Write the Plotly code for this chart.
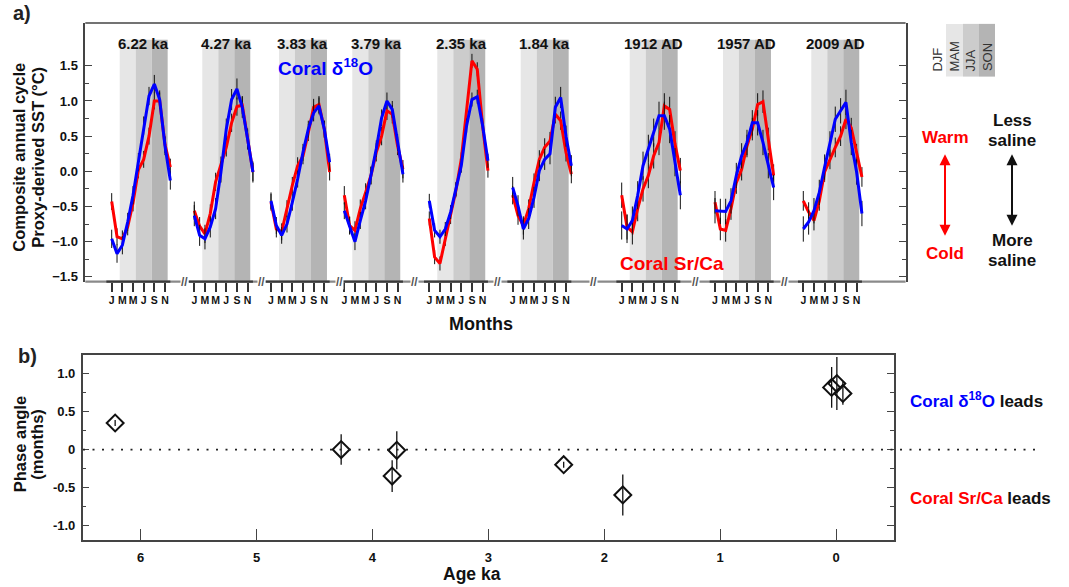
import plotly.graph_objects as go

W, H = 1069, 587
FONT = "Liberation Sans, Arial, sans-serif"
RED = "#ff0000"
BLUE = "#0000ff"

# ---------------- data ----------------
PANEL_LABELS = ["6.22 ka", "4.27 ka", "3.83 ka", "3.79 ka", "2.35 ka", "1.84 ka",
                "1912 AD", "1957 AD", "2009 AD"]
MONTH_TICK_LABELS = ["J", "M", "M", "J", "S", "N"]
MONTHS = list(range(12))

srca_622 = [-0.43, -0.93, -0.96, -0.79, -0.45, 0.02, 0.17, 0.50, 1.00, 1.00, 0.38, 0.06]
d18o_622 = [-0.96, -1.17, -1.05, -0.72, -0.34, 0.13, 0.65, 1.07, 1.24, 1.02, 0.36, -0.13]
srca_427 = [-0.56, -0.78, -0.89, -0.60, -0.15, 0.08, 0.34, 0.69, 0.92, 0.94, 0.46, -0.01]
d18o_427 = [-0.63, -0.91, -0.96, -0.79, -0.53, -0.01, 0.60, 1.02, 1.17, 0.91, 0.46, -0.01]
srca_383 = [-0.44, -0.82, -0.86, -0.53, -0.20, 0.08, 0.22, 0.55, 0.91, 0.95, 0.60, -0.01]
d18o_383 = [-0.42, -0.77, -0.91, -0.75, -0.44, -0.11, 0.27, 0.60, 0.83, 0.93, 0.60, 0.13]
srca_379 = [-0.34, -0.77, -0.84, -0.53, -0.30, -0.06, 0.27, 0.50, 0.86, 0.81, 0.36, 0.03]
d18o_379 = [-0.56, -0.77, -1.00, -0.70, -0.42, -0.06, 0.32, 0.76, 1.00, 0.88, 0.41, -0.04]
srca_235 = [-0.67, -1.22, -1.31, -0.96, -0.65, -0.27, 0.17, 0.83, 1.57, 1.45, 0.65, 0.01]
d18o_235 = [-0.42, -0.84, -0.93, -0.82, -0.58, -0.25, 0.08, 0.65, 1.02, 1.06, 0.65, 0.15]
srca_184 = [-0.34, -0.63, -0.77, -0.53, -0.16, 0.17, 0.34, 0.43, 0.81, 0.72, 0.27, -0.04]
d18o_184 = [-0.23, -0.49, -0.82, -0.67, -0.37, 0.01, 0.17, 0.25, 0.91, 1.05, 0.50, 0.08]
srca_1912 = [-0.34, -0.79, -0.86, -0.53, -0.25, -0.06, 0.22, 0.41, 0.93, 0.88, 0.39, 0.01]
d18o_1912 = [-0.77, -0.82, -0.70, -0.34, 0.08, 0.32, 0.55, 0.79, 0.79, 0.60, 0.13, -0.34]
srca_1957 = [-0.44, -0.82, -0.84, -0.53, -0.16, 0.03, 0.36, 0.60, 0.95, 0.99, 0.46, -0.06]
d18o_1957 = [-0.56, -0.57, -0.57, -0.42, -0.06, 0.22, 0.41, 0.69, 0.69, 0.41, 0.08, -0.23]
srca_2009 = [-0.42, -0.58, -0.70, -0.42, -0.01, 0.17, 0.34, 0.50, 0.74, 0.62, 0.25, -0.08]
d18o_2009 = [-0.82, -0.72, -0.56, -0.30, 0.06, 0.39, 0.74, 0.86, 0.98, 0.41, -0.01, -0.60]

SRCA = [srca_622, srca_427, srca_383, srca_379, srca_235, srca_184, srca_1912, srca_1957, srca_2009]
D18O = [d18o_622, d18o_427, d18o_383, d18o_379, d18o_235, d18o_184, d18o_1912, d18o_1957, d18o_2009]
ERR_SRCA = [0.12, 0.13, 0.12, 0.13, 0.10, 0.13, 0.18, 0.16, 0.14]
ERR_D18O = [0.13, 0.15, 0.12, 0.12, 0.10, 0.15, 0.20, 0.18, 0.18]

AGE_KA = [6.22, 4.27, 3.83, 3.79, 2.35, 1.84, 0.038, -0.007, -0.059]
PHASE = [0.35, 0.0, -0.35, -0.01, -0.20, -0.60, 0.82, 0.87, 0.74]
PHASE_ERR = [0.04, 0.20, 0.21, 0.25, 0.04, 0.27, 0.27, 0.35, 0.15]

# ---------------- layout positions (top panel x axis in pixel-like units) ----------------
PANEL_JAN_X = [111.7, 194.3, 271.0, 344.3, 429.3, 512.7, 621.7, 715.0, 803.3]
MONTH_STEP = 5.33
BREAKS_X = [180, 257, 335, 414, 497, 593, 695, 789]


def px(p):
    return p / W


def py(p):
    return 1 - p / H


fig = go.Figure()
tickvals, ticktext = [], []
shapes = []
annotations = []
SHADES = ["#e6e6e6", "#cccccc", "#b4b4b4"]
TOP_Y0, TOP_Y1 = -1.567, 2.11

# grey broken bottom line of the top panel
shapes.append(dict(type="line", xref="paper", yref="paper", x0=px(85.3), x1=px(905.6), y0=py(283), y1=py(283),
                   line=dict(color="#8a8a8a", width=2.2)))

for i, lab in enumerate(PANEL_LABELS):
    x0 = PANEL_JAN_X[i]
    xs = [x0 + m * MONTH_STEP for m in MONTHS]
    for s in range(3):
        shapes.append(dict(type="rect", xref="x", yref="y",
                           x0=x0 + (1.5 + 3 * s) * MONTH_STEP, x1=x0 + (4.5 + 3 * s) * MONTH_STEP,
                           y0=TOP_Y0, y1=1.87, fillcolor=SHADES[s], line=dict(width=0), layer="below"))
    shapes.append(dict(type="line", xref="x", yref="paper", x0=x0 - MONTH_STEP, x1=x0 + 11 * MONTH_STEP,
                       y0=py(283), y1=py(283), line=dict(color="#3a3a3a", width=2.2)))
    fig.add_trace(go.Scatter(x=xs, y=SRCA[i], mode="lines", line=dict(color=RED, width=3),
                             error_y=dict(type="constant", value=ERR_SRCA[i], color="#111", thickness=1, width=0),
                             xaxis="x", yaxis="y"))
    fig.add_trace(go.Scatter(x=xs, y=D18O[i], mode="lines", line=dict(color=BLUE, width=3),
                             error_y=dict(type="constant", value=ERR_D18O[i], color="#111", thickness=1, width=0),
                             xaxis="x", yaxis="y"))
    for k, t in enumerate(MONTH_TICK_LABELS):
        tickvals.append(x0 + 2 * k * MONTH_STEP)
        ticktext.append(t)
    annotations.append(dict(text="<b>%s</b>" % lab, xref="x", yref="paper",
                            x=x0 + 6 * MONTH_STEP, y=py(33), showarrow=False,
                            font=dict(size=15, color="#111", family=FONT)))

fig.add_trace(go.Scatter(x=AGE_KA, y=PHASE, mode="markers",
                         marker=dict(symbol="diamond-open", size=13, color="#111", line=dict(width=2, color="#111")),
                         error_y=dict(type="data", array=PHASE_ERR, color="#111", thickness=1.3, width=0),
                         xaxis="x2", yaxis="y2"))

shapes.append(dict(type="line", xref="paper", yref="paper", x0=px(85.3), x1=px(905.6), y0=py(23), y1=py(23),
                   line=dict(color="#444", width=1.5)))
for bx in BREAKS_X:
    annotations.append(dict(text="<b>//</b>", xref="paper", yref="paper", x=px(bx), y=py(283.5),
                            showarrow=False, bgcolor="white", borderpad=0,
                            font=dict(size=12, color="#555", family=FONT)))

shapes.append(dict(type="line", xref="paper", yref="y2", x0=px(83), x1=px(1042), y0=0, y1=0,
                   line=dict(color="#222", width=1.8, dash="2px,7.5px")))

LEG_X = [946, 963, 979, 995]
for s in range(3):
    shapes.append(dict(type="rect", xref="paper", yref="paper", x0=px(LEG_X[s]), x1=px(LEG_X[s + 1]),
                       y0=py(77), y1=py(24), fillcolor=SHADES[s], line=dict(width=0)))
for lbl, xx in zip(["DJF", "MAM", "JJA", "SON"], [938, 955, 971, 987.5]):
    annotations.append(dict(text=lbl, xref="paper", yref="paper", x=px(xx), y=py(74), textangle=-90,
                            xanchor="center", yanchor="bottom", showarrow=False,
                            font=dict(size=13, color="#333", family=FONT)))

annotations.append(dict(text="", xref="paper", yref="paper", x=px(945), y=py(155), ax=0, ay=83,
                        showarrow=True, arrowside="end+start", arrowhead=2, startarrowhead=2,
                        arrowsize=1.1, startarrowsize=1.1, arrowwidth=2, arrowcolor=RED))
annotations.append(dict(text="", xref="paper", yref="paper", x=px(1012), y=py(155), ax=0, ay=73,
                        showarrow=True, arrowside="end+start", arrowhead=2, startarrowhead=2,
                        arrowsize=1.1, startarrowsize=1.1, arrowwidth=2, arrowcolor="#111"))


def txt(t, x, y, size, color="#111", angle=0, xanchor="center"):
    annotations.append(dict(text=t, xref="paper", yref="paper", x=px(x), y=py(y), showarrow=False,
                            textangle=angle, xanchor=xanchor, yanchor="middle",
                            font=dict(size=size, color=color, family=FONT)))


txt("<b>Warm</b>", 945, 138, 17, RED)
txt("<b>Cold</b>", 945, 255, 17, RED)
txt("<b>Less</b>", 1012, 121.5, 17)
txt("<b>saline</b>", 1012, 141.5, 17)
txt("<b>More</b>", 1012, 241.5, 17)
txt("<b>saline</b>", 1012, 261.5, 17)
txt("<b>a)</b>", 22, 13, 20, "#222")
txt("<b>b)</b>", 27, 358, 20, "#222")
txt("<b>Composite annual cycle</b>", 19.5, 158, 16.5, "#111", -90)
txt("<b>Proxy-derived SST (°C)</b>", 38.5, 158, 16.5, "#111", -90)
txt("<b>Phase angle</b>", 19.5, 447, 16.5, "#111", -90)
txt("<b>(months)</b>", 37, 447, 16.5, "#111", -90)
txt("<b>Months</b>", 481, 326, 18)
txt("<b>Age ka</b>", 472, 577, 17.5)
txt("<b>Coral δ<sup>18</sup>O</b>", 325, 67, 19, BLUE)
txt("<b>Coral Sr/Ca</b>", 672, 265, 19, RED)
txt("<b><span style='color:%s'>Coral δ<sup>18</sup>O</span> leads</b>" % BLUE, 908, 402, 17, "#111", 0, "left")
txt("<b><span style='color:%s'>Coral Sr/Ca</span> leads</b>" % RED, 908, 501, 17, "#111", 0, "left")

TOP_YTICKS = [-1.5, -1.0, -0.5, 0.0, 0.5, 1.0, 1.5]
TOP_YMINOR = [-1.25, -0.75, -0.25, 0.25, 0.75, 1.25]
BOT_YTICKS = [-1.0, -0.5, 0, 0.5, 1.0]
BOT_YTEXT = ["-1.0", "-0.5", "0", "0.5", "1.0"]
BOT_YMINOR = [-0.75, -0.25, 0.25, 0.75]
AGE_TICKS = [0, 1, 2, 3, 4, 5, 6]

tickfont13 = dict(size=13, color="#111", family=FONT, weight="bold")
fig.update_layout(
    width=W, height=H, margin=dict(l=0, r=0, t=0, b=0),
    paper_bgcolor="white", plot_bgcolor="white", showlegend=False,
    shapes=shapes, annotations=annotations,
    xaxis=dict(domain=[px(85.3), px(905.6)], range=[85.3, 905.6], showline=False, showgrid=False,
               zeroline=False, tickvals=tickvals, ticktext=ticktext, ticks="outside", ticklen=9,
               tickwidth=1.5, tickcolor="#333", tickangle=0,
               tickfont=dict(size=10.5, color="#111", family=FONT, weight="bold"),
               anchor="y", fixedrange=True),
    yaxis=dict(domain=[py(283), py(23)], range=[TOP_Y0, TOP_Y1], showgrid=False, zeroline=False,
               tickvals=TOP_YTICKS, tickformat=".1f", ticks="inside", ticklen=7, tickwidth=1.2,
               tickcolor="#444", showline=True, linecolor="#444", linewidth=1.5, mirror="ticks",
               minor=dict(tickvals=TOP_YMINOR, ticks="inside", ticklen=4, tickcolor="#444", tickwidth=1.2),
               tickfont=tickfont13, ticklabelstandoff=3, anchor="x"),
    xaxis2=dict(domain=[px(82.7), px(894)], range=[6.5, -0.5], showgrid=False, zeroline=False,
                tickvals=AGE_TICKS, ticks="inside", ticklen=11, tickwidth=1.2, tickcolor="#444",
                showline=True, linecolor="#444", linewidth=1.5, mirror=True, tickfont=tickfont13,
                ticklabelstandoff=5, anchor="y2"),
    yaxis2=dict(domain=[py(542.7), py(356.7)], range=[-1.193, 1.249], showgrid=False, zeroline=False,
                tickvals=BOT_YTICKS, ticktext=BOT_YTEXT, ticks="inside", ticklen=7, tickwidth=1.2,
                tickcolor="#444", showline=True, linecolor="#444", linewidth=1.5, mirror="ticks",
                minor=dict(tickvals=BOT_YMINOR, ticks="inside", ticklen=4, tickcolor="#444", tickwidth=1.2),
                tickfont=tickfont13, ticklabelstandoff=3, anchor="x2"),
)

fig.write_html("out.html", config={"displayModeBar": False},
               post_script="document.body.style.margin='0px';")
